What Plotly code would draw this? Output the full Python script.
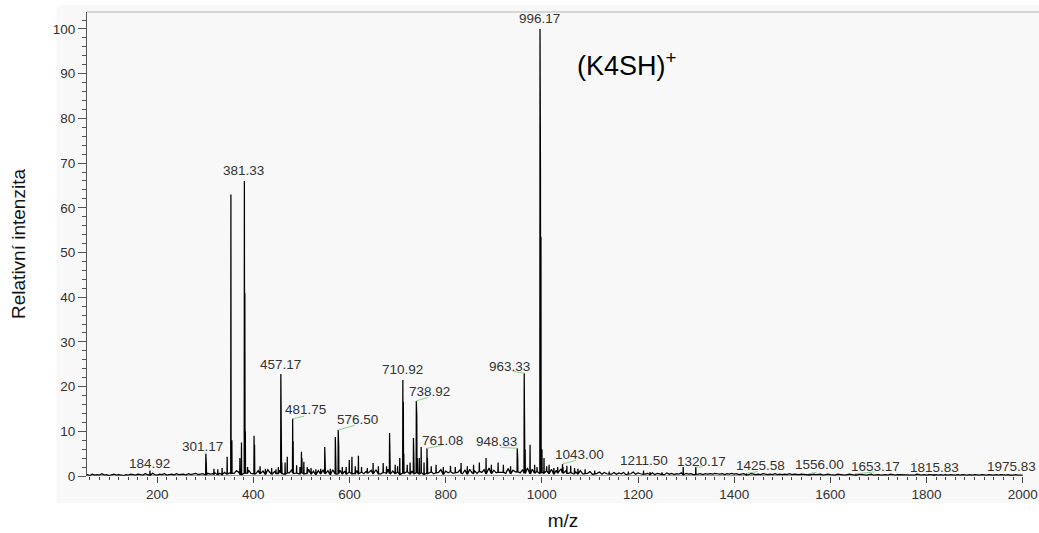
import numpy as np
import plotly.graph_objects as go

# ---------------- data ----------------
# baseline noise, sampled every 5 m/z from 50 to 2000 (values in tenths of %)
noise_mz = np.arange(50, 2001, 5)
noise_tenths = [
    2, 3, 1, 4, 2, 3, 2, 5, 2, 3, 1, 3, 4, 2, 3, 2, 1, 3, 2, 4,        # 50-145
    3, 2, 4, 3, 2, 5, 3, 2, 6, 3, 2, 4, 3, 5, 2, 3, 4, 2, 5, 3,        # 150-245
    3, 4, 2, 5, 3, 4, 6, 3, 4, 5, 3, 6, 4, 5, 7, 4, 6, 5, 8, 6,        # 250-345
    7, 11, 6, 12, 8, 5, 11, 7, 13, 6, 10, 5, 12, 7, 11, 6, 14, 8, 5, 11,   # 350-445
    6, 13, 8, 5, 12, 7, 14, 6, 11, 5, 13, 8, 6, 15, 7, 11, 5, 12, 8, 14,   # 450-545
    7, 12, 5, 14, 8, 6, 13, 7, 11, 5, 15, 8, 6, 12, 7, 14, 5, 11, 8, 13,   # 550-645
    6, 14, 8, 5, 13, 7, 15, 6, 11, 8, 14, 5, 12, 7, 16, 6, 11, 8, 13, 7,   # 650-745
    14, 6, 11, 7, 15, 5, 12, 8, 14, 6, 11, 7, 16, 6, 12, 8, 14, 5, 13, 7,  # 750-845
    15, 7, 12, 6, 17, 8, 14, 6, 18, 9, 13, 7, 16, 8, 14, 6, 17, 8, 13, 9,  # 850-945
    16, 7, 14, 9, 18, 8, 15, 10, 17, 7, 14, 9, 19, 8, 15, 7, 13, 9, 16, 8, # 950-1045
    12, 6, 13, 5, 10, 7, 12, 5, 9, 6, 10, 4, 8, 6, 9, 4, 8, 5, 7, 4,   # 1050-1145
    8, 4, 7, 5, 8, 3, 7, 5, 9, 4, 7, 5, 8, 4, 6, 5, 7, 3, 6, 4,        # 1150-1245
    6, 3, 7, 4, 6, 3, 5, 4, 7, 3, 6, 4, 5, 3, 6, 4, 5, 3, 5, 4,        # 1250-1345
    5, 4, 6, 5, 4, 5, 3, 5, 4, 6, 4, 5, 3, 4, 5, 4, 3, 5, 4, 3,        # 1350-1445
    4, 3, 5, 4, 3, 4, 3, 5, 3, 4, 3, 4, 3, 5, 3, 4, 3, 3, 4, 3,        # 1450-1545
    3, 4, 3, 4, 3, 3, 4, 2, 3, 4, 3, 3, 2, 4, 3, 3, 2, 3, 4, 3,        # 1550-1645
    3, 2, 4, 3, 3, 2, 3, 4, 2, 3, 3, 2, 3, 3, 2, 4, 3, 2, 3, 3,        # 1650-1745
    2, 3, 3, 2, 3, 2, 4, 3, 2, 3, 2, 3, 3, 2, 3, 2, 3, 2, 3, 2,        # 1750-1845
    3, 2, 2, 3, 2, 3, 2, 2, 3, 2, 3, 2, 2, 3, 2, 2, 3, 2, 2, 3,        # 1850-1945
    2, 3, 2, 2, 3, 2, 2, 3, 2, 2, 2,                                   # 1950-2000
]

peak_mz = [
    184.92, 301.17, 302.2, 318, 326, 335, 345.5,
    353.3, 354.3, 355.3, 372, 375.3, 381.33, 382.33, 383.3, 388,
    401.5, 402.5, 414, 425, 438, 447, 452,
    457.17, 458.17, 459.2, 466, 470.5, 481.75, 482.75, 490, 497,
    500, 501, 505, 512, 520, 530, 540, 548.5, 549.5, 560,
    570.5, 571.5, 576.5, 577.5, 585, 593, 599.5, 605, 612, 618.5, 625,
    637, 649, 660, 670, 677, 683.3, 684.3, 695, 700, 704.5,
    710.92, 711.92, 712.9, 720, 726, 733, 734, 738.92, 739.92, 741,
    745, 749, 755, 761.08, 762.1, 770, 780, 795, 810, 820, 832, 845,
    858, 870, 884, 895, 909, 920, 935, 948.83, 949.8,
    963.33, 964.33, 965.3, 975.5, 976.5, 985, 990,
    996.17, 997.17, 998.17, 999.17, 1000.2, 1004.5, 1010, 1015, 1025, 1033,
    1043.0, 1044, 1052, 1060, 1068, 1075, 1090, 1110, 1140, 1180,
    1211.5, 1225, 1250, 1294, 1320.17,
    1425.58, 1556.0, 1653.17, 1815.83, 1975.83,
]
peak_int = [
    1.2, 5.0, 2.5, 1.6, 1.5, 1.8, 4.3,
    63, 38, 8, 4.0, 7.5, 66, 41, 10, 2,
    9, 7, 2.2, 1.6, 1.8, 1.5, 2,
    22.8, 12.5, 3, 3.0, 4.3, 12.8, 7.8, 2.4, 2,
    5.4, 4.0, 3.2, 2, 1.8, 1.5, 1.6, 6.5, 4.5, 1.6,
    8.7, 5.5, 10.3, 6.7, 2, 2, 3.6, 4.3, 2.2, 4.5, 2,
    1.8, 2.9, 2.2, 2.9, 2.2, 9.6, 6, 2.5, 2.2, 4,
    21.5, 16.6, 5, 2.5, 3, 8.5, 5, 16.8, 13.5, 4,
    4, 6.5, 3, 6.2, 4, 2.2, 2.5, 2, 2.3, 2, 2.9, 2.2,
    2.5, 3, 4, 2.5, 3, 2.5, 2.2, 6.2, 4,
    23, 13.6, 6, 7, 5, 2.5, 2,
    100, 68.5, 53.5, 20, 6, 4, 2.2, 2.5, 1.8, 2,
    2.7, 2, 2.3, 2.3, 1.8, 1.6, 1.5, 1.2, 1.0, 1.0,
    1.2, 0.9, 0.8, 2.0, 2.0,
    0.6, 0.5, 0.5, 0.4, 0.3,
]

# labelled peaks
label_mz = [184.92, 301.17, 381.33, 457.17, 481.75, 576.50, 710.92, 738.92,
            761.08, 948.83, 963.33, 996.17, 1043.00, 1211.50, 1320.17,
            1425.58, 1556.00, 1653.17, 1815.83, 1975.83]
label_text = ["184.92", "301.17", "381.33", "457.17", "481.75", "576.50",
              "710.92", "738.92", "761.08", "948.83", "963.33", "996.17",
              "1043.00", "1211.50", "1320.17", "1425.58", "1556.00",
              "1653.17", "1815.83", "1975.83"]

ion_label = "(K4SH)<sup>+</sup>"
x_title = "m/z"
y_title = "Relativní intenzita"

# ---------------- layout helpers (label placement, px) ----------------
label_offsets = {  # mz: (dx, dy, leader_dx, leader_dy) ; dy negative = up
    184.92: (0, -7, None, None),
    301.17: (-3, -7, -2, -3),
    381.33: (-1, -10, None, None),
    457.17: (0, -10, None, None),
    481.75: (13, -9, 13, -3),
    576.50: (19, -10, 18, -5),
    710.92: (0, -10, None, None),
    738.92: (13, -9, 13, -4),
    761.08: (16, -8, 16, -3),
    948.83: (-21, -7, -18, -1),
    963.33: (-15, -7, -13, -2),
    996.17: (-1, -10, None, None),
    1043.00: (17, -9, 15, -4),
    1211.50: (0, -10, None, None),
    1320.17: (6, -6, 8, 0),
    1425.58: (14, -8, 13, -2),
    1556.00: (10, -9, 9, -2),
    1653.17: (20, -7, 20, -2),
    1815.83: (0, -7, None, None),
    1975.83: (0, -8, None, None),
}

# ---------------- build profile ----------------
noise_int = np.array(noise_tenths, dtype=float) / 10.0
pk_mz = np.array(peak_mz, dtype=float)
pk_int = np.array(peak_int, dtype=float)

keep = np.array([np.min(np.abs(pk_mz - m)) > 1.5 for m in noise_mz])
xs = list(noise_mz[keep].astype(float))
ys = list(noise_int[keep])
hw = 0.45
for m, h in zip(pk_mz, pk_int):
    b = float(np.interp(m, noise_mz, noise_int)) * 0.6
    xs += [m - hw, m, m + hw]
    ys += [b, h, b]
order = np.argsort(np.array(xs), kind="stable")
px = np.array(xs)[order]
py = np.array(ys)[order]

fig = go.Figure()
fig.add_trace(go.Scatter(
    x=px, y=py, mode="lines",
    line=dict(color="#000000", width=1.25),
    hoverinfo="skip", showlegend=False,
))

font_family = "Liberation Sans, Arial, sans-serif"
annotations = []
for m, t in zip(label_mz, label_text):
    h = float(pk_int[np.argmin(np.abs(pk_mz - m))])
    dx, dy, lx, ly = label_offsets[m]
    annotations.append(dict(
        x=m, y=h, xref="x", yref="y", text=t, showarrow=False,
        xshift=dx, yshift=-dy, xanchor="center", yanchor="middle",
        font=dict(family=font_family, size=13.5, color="#333333"),
    ))
    if lx is not None:
        annotations.append(dict(
            x=m, y=h, xref="x", yref="y", text="", showarrow=True,
            ax=lx, ay=ly, arrowhead=0, arrowwidth=1, arrowcolor="#8fd18f",
            standoff=0,
        ))

annotations.append(dict(
    x=0.567, y=0.888, xref="paper", yref="paper", text=ion_label,
    showarrow=False, xanchor="center", yanchor="middle",
    font=dict(family=font_family, size=27, color="#000000"),
))

x_major = list(range(200, 2001, 200))
x_minor = list(range(60, 2001, 20))

fig.update_layout(
    width=1039, height=533,
    margin=dict(l=87, r=0, t=12, b=57),
    paper_bgcolor="#ffffff",
    plot_bgcolor="#f0f0f0",
    hovermode=False,
    font=dict(family=font_family, color="#333333"),
    annotations=annotations,
    shapes=[
        dict(type="rect", xref="paper", yref="paper", x0=-0.032, x1=1.0,
             y0=-0.058, y1=1.015, fillcolor="#f8f8f8", line=dict(width=0),
             layer="below"),
        dict(type="line", xref="paper", yref="paper", x0=0, x1=1, y0=1, y1=1,
             line=dict(color="#cccccc", width=1.5)),
        dict(type="line", xref="x", yref="y", x0=54, x1=2000, y0=0, y1=0,
             line=dict(color="#444444", width=1), layer="above"),
    ],
    xaxis=dict(
        range=[54, 2034], showgrid=False, zeroline=False, showline=False,
        tickmode="array", tickvals=x_major,
        ticks="outside", ticklen=6, tickcolor="#444444", tickwidth=1,
        tickfont=dict(size=13.5, color="#333333"),
        minor=dict(tickmode="array", tickvals=x_minor, ticks="outside",
                   ticklen=3, tickcolor="#444444", showgrid=False),
        title=dict(text=x_title, font=dict(size=19, color="#111111"), standoff=12),
    ),
    yaxis=dict(
        range=[0, 103.8], showgrid=False, zeroline=False,
        showline=True, linecolor="#555555", linewidth=1,
        tickmode="array", tickvals=list(range(0, 101, 10)),
        ticks="outside", ticklen=8, tickcolor="#555555", tickwidth=1,
        tickfont=dict(size=13.5, color="#333333"),
        minor=dict(dtick=2, ticks="outside", ticklen=4, tickcolor="#555555",
                   showgrid=False),
        title=dict(text=y_title, font=dict(size=19, color="#111111"), standoff=22),
    ),
)

fig.write_html("out.html",
               config={"displayModeBar": False},
               post_script="document.body.style.margin='0';"
                           "document.body.style.overflow='hidden';")
